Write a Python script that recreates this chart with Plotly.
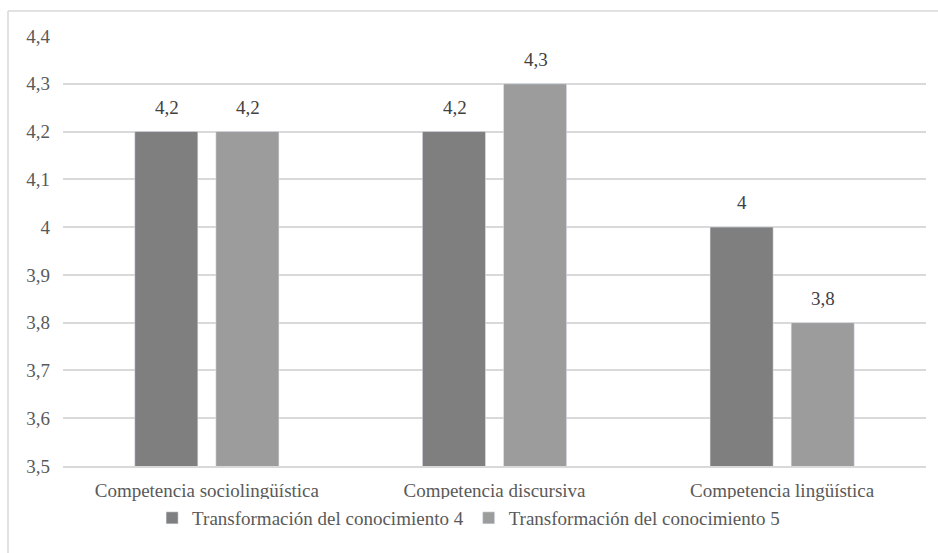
import plotly.graph_objects as go

categories = ["Competencia sociolingüística", "Competencia discursiva", "Competencia lingüística"]
series_names = ["Transformación del conocimiento 4", "Transformación del conocimiento 5"]
values_4 = [4.2, 4.2, 4.0]
values_5 = [4.2, 4.3, 3.8]
y_ticks = [3.5, 3.6, 3.7, 3.8, 3.9, 4.0, 4.1, 4.2, 4.3, 4.4]
colors = ["#7f7f7f", "#9c9c9c"]

def fmt(v):
    s = ("%g" % v)
    return s.replace(".", ",")

FONT = "Liberation Serif, Times New Roman, serif"
TXT = "#595959"
FS = 19

fig = go.Figure()
for name, vals, col in zip(series_names, [values_4, values_5], colors):
    fig.add_trace(go.Bar(x=categories, y=vals, name=name, marker_color=col))

W, H = 938, 553
ml, mr, mt, mb = 63, 12, 36, 87
pw, ph = W - ml - mr, H - mt - mb

annotations = []
for vals, shift in zip([values_4, values_5], [-40, 41]):
    for c, v in zip(categories, vals):
        annotations.append(dict(x=c, y=v, xref="x", yref="y", text=fmt(v), showarrow=False,
                                xshift=shift, yshift=12, yanchor="bottom",
                                font=dict(family=FONT, size=FS, color="#404040")))

fig.update_layout(
    width=W, height=H,
    margin=dict(l=ml, r=mr, t=mt, b=mb),
    paper_bgcolor="white", plot_bgcolor="white",
    separators=",.",
    barmode="group", bargap=0.436, bargroupgap=0.222,
    font=dict(family=FONT, size=FS, color=TXT),
    showlegend=True,
    legend=dict(orientation="h", x=0.47, xanchor="center", y=(466 - 518) / ph, yanchor="middle",
                font=dict(family=FONT, size=FS, color=TXT), itemwidth=30, traceorder="normal"),
    xaxis=dict(showgrid=False, showline=True, linecolor="#d9d9d9", linewidth=1.5,
               ticks="", tickfont=dict(family=FONT, size=FS, color=TXT), ticklabelstandoff=6),
    yaxis=dict(range=[3.5, 4.4], tickvals=y_ticks, ticktext=[fmt(v) for v in y_ticks],
               showgrid=True, gridcolor="#d9d9d9", gridwidth=1.5, zeroline=False, showline=False,
               ticks="", tickfont=dict(family=FONT, size=FS, color=TXT), ticklabelstandoff=12),
    annotations=annotations,
    shapes=[
        dict(type="line", xref="paper", yref="paper", x0=(8 - ml) / pw, x1=1.2, y0=1 + (mt - 11) / ph, y1=1 + (mt - 11) / ph,
             line=dict(color="#d9d9d9", width=1.5)),
        dict(type="line", xref="paper", yref="paper", x0=(8 - ml) / pw, x1=(8 - ml) / pw, y0=-0.3, y1=1 + (mt - 11) / ph,
             line=dict(color="#d9d9d9", width=1.5)),
    ],
)

fig.write_html("out.html")
